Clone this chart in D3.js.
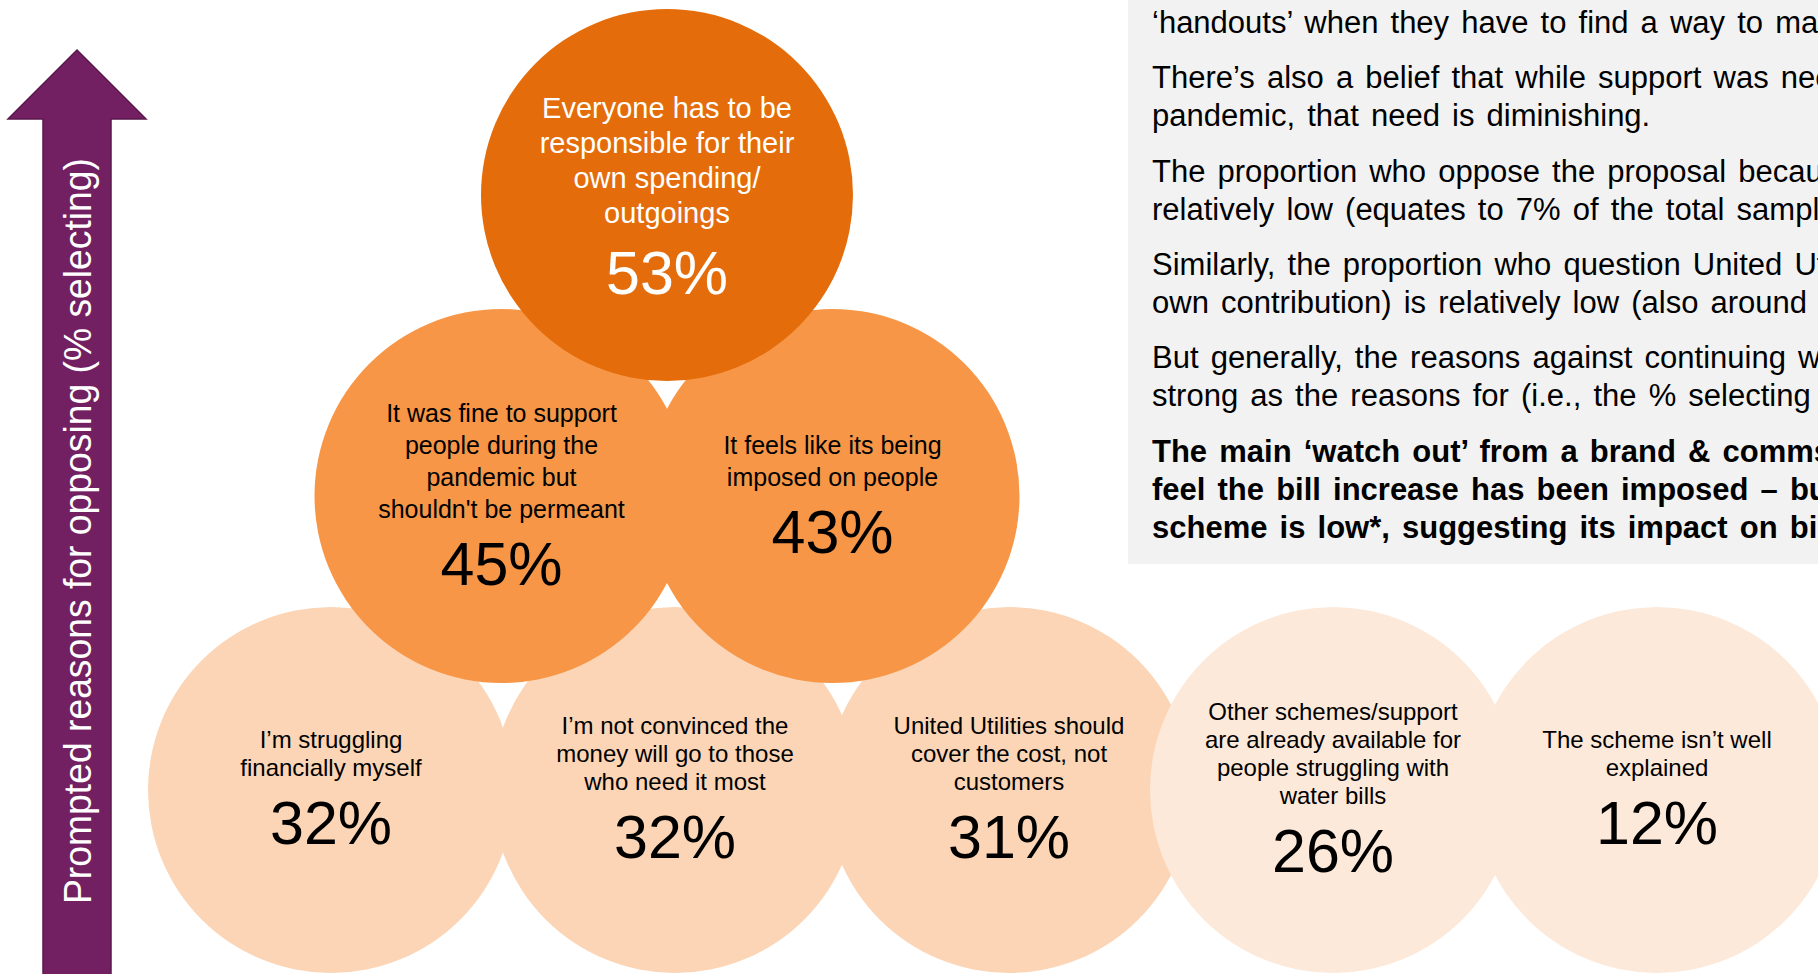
<!DOCTYPE html>
<html>
<head>
<meta charset="utf-8">
<script src="https://cdn.jsdelivr.net/npm/d3@7"></script>
<style>
  html, body { margin: 0; padding: 0; background: #ffffff; overflow: hidden; }
  svg { display: block; font-family: "Liberation Sans", Arial, sans-serif; }
</style>
</head>
<body>
<svg id="chart" width="1818" height="974"></svg>
<script>
// ---- Data -------------------------------------------------------------
const reasons = [
  ["Everyone has to be", "responsible for their", "own spending/", "outgoings"],
  ["It was fine to support", "people during the", "pandemic but", "shouldn't be permeant"],
  ["It feels like its being", "imposed on people"],
  ["I’m struggling", "financially myself"],
  ["I’m not convinced the", "money will go to those", "who need it most"],
  ["United Utilities should", "cover the cost, not", "customers"],
  ["Other schemes/support", "are already available for", "people struggling with", "water bills"],
  ["The scheme isn’t well", "explained"]
];
const pctSelecting = [53, 45, 43, 32, 32, 31, 26, 12];
const rowSizes = [1, 2, 5];
const axisTitle = "Prompted reasons for opposing (% selecting)";
const commentary = [
  { bold: false, lines: ["‘handouts’ when they have to find a way to manage"] },
  { bold: false, lines: ["There’s also a belief that while support was needed",
                         "pandemic, that need is diminishing."] },
  { bold: false, lines: ["The proportion who oppose the proposal because",
                         "relatively low (equates to 7% of the total sample)"] },
  { bold: false, lines: ["Similarly, the proportion who question United Utilities’",
                         "own contribution) is relatively low (also around 7%"] },
  { bold: false, lines: ["But generally,  the reasons against continuing were",
                         "strong as the reasons for (i.e., the % selecting each"] },
  { bold: true,  lines: ["The main ‘watch out’ from a brand & comms",
                         "feel the bill increase has been imposed – but",
                         "scheme is low*, suggesting its impact on bills"] }
];

// ---- Layout -----------------------------------------------------------
const svg = d3.select("#chart");

// bubbles sit in a pyramid of slots: one on top, two in the middle, five below
const rowStart = [1, 0.5, 0];
const items = [];
let idx = 0;
rowSizes.forEach((n, r) => {
  for (let k = 0; k < n; k++, idx++) {
    items.push({ i: idx, row: r, slot: rowStart[r] + k,
                 lines: reasons[idx], value: pctSelecting[idx] });
  }
});

// upper rows share one slot scale; the base row is spaced a little unevenly
const xUpper = d3.scaleLinear().domain([0, 4]).range([336, 1660]);
const xBase = d3.scaleLinear().domain([0, 1, 2, 4]).range([331, 675, 1009, 1657]);
const xPos = d => (d.row === 2 ? xBase(d.slot) : xUpper(d.slot));
const y = d3.scaleLinear().domain([0, 1, 2]).range([195, 496, 790]);
const radius = d3.scaleOrdinal().domain([0, 1, 2]).range([186, 187, 183]);
const fill = d3.scaleThreshold().domain([30, 40, 50])
  .range(["#FDE9D9", "#FBD5B5", "#F79646", "#E46C0A"]);
const ink = d3.scaleThreshold().domain([50]).range(["#000000", "#ffffff"]);
const labelSize = [29, 25, 24];
const lineGap = [35, 32, 28];
const pctGapRow = [71, 67, 68];
const blockShift = [1, -1, -3];
const pctSize = 61;

// ---- Commentary panel ---------------------------------------------------
svg.append("rect")
  .attr("x", 1128).attr("y", -10)
  .attr("width", 720).attr("height", 574)
  .attr("fill", "#F2F2F2");

const notes = svg.append("g").attr("class", "commentary");
let lineNo = 0;
commentary.forEach((p, pi) => {
  p.lines.forEach(line => {
    notes.append("text")
      .attr("x", 1152)
      .attr("y", 33 + lineNo * 38 + pi * 17.3)
      .attr("font-size", 31)
      .attr("font-weight", p.bold ? 700 : 400)
      .attr("word-spacing", 3.5)
      .attr("fill", "#000")
      .text(line);
    lineNo++;
  });
});

// ---- Direction arrow with rotated title ------------------------------
svg.append("path")
  .attr("d", "M77,50 L146,119 L111,119 L111,990 L43,990 L43,119 L8,119 Z")
  .attr("fill", "#732062")
  .attr("stroke", "#5A184C")
  .attr("stroke-width", 1.5);

svg.append("text")
  .attr("transform", "translate(91,531) rotate(-90)")
  .attr("text-anchor", "middle")
  .attr("font-size", 39)
  .attr("fill", "#ffffff")
  .attr("textLength", 746)
  .attr("lengthAdjust", "spacingAndGlyphs")
  .text(axisTitle);

// ---- Bubbles: base row first, left to right, so upper rows sit on top ----
const drawOrder = items.slice().sort((a, b) => b.row - a.row || a.i - b.i);

svg.append("g").attr("class", "bubbles")
  .selectAll("circle")
  .data(drawOrder)
  .join("circle")
  .attr("cx", d => xPos(d))
  .attr("cy", d => y(d.row))
  .attr("r", d => radius(d.row))
  .attr("fill", d => fill(d.value));

// labels are drawn after all discs so no disc hides another bubble's text
const labels = svg.append("g").attr("class", "labels")
  .selectAll("g.lab")
  .data(items)
  .join("g")
  .attr("class", "lab")
  .attr("transform", d => `translate(${xPos(d)},${y(d.row)})`);

labels.each(function (d) {
  const g = d3.select(this);
  const fs = labelSize[d.row];
  const lh = lineGap[d.row];
  const gap = pctGapRow[d.row];
  const n = d.lines.length;
  const cap = fs * 0.716;
  const pctBase = blockShift[d.row] + (gap + (n - 1) * lh + cap) / 2;
  const firstBase = pctBase - gap - (n - 1) * lh;

  g.selectAll("text.label")
    .data(d.lines)
    .join("text")
    .attr("class", "label")
    .attr("text-anchor", "middle")
    .attr("y", (t, j) => firstBase + j * lh)
    .attr("font-size", fs)
    .attr("fill", ink(d.value))
    .text(t => t);

  g.append("text")
    .attr("class", "pct")
    .attr("text-anchor", "middle")
    .attr("y", pctBase)
    .attr("font-size", pctSize)
    .attr("fill", ink(d.value))
    .text(d3.format("d")(d.value) + "%");
});
</script>
</body>
</html>
